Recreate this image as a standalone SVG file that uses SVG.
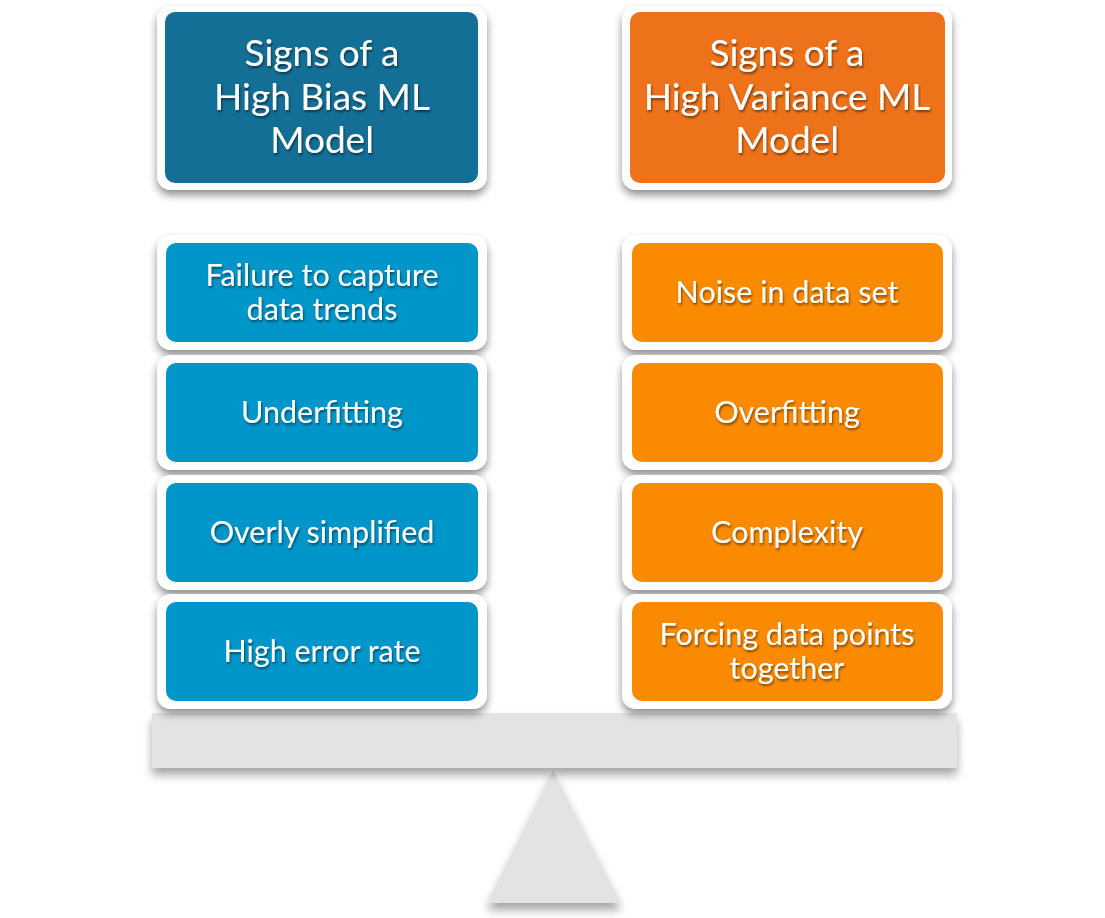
<svg xmlns="http://www.w3.org/2000/svg" width="1105" height="918" viewBox="0 0 1105 918">
  <defs>
    <filter id="frameShadow" x="-10%" y="-15%" width="120%" height="140%">
      <feGaussianBlur in="SourceAlpha" stdDeviation="4"/>
      <feOffset dx="0" dy="5" result="b"/>
      <feComponentTransfer><feFuncA type="linear" slope="0.45"/></feComponentTransfer>
      <feMerge><feMergeNode/><feMergeNode in="SourceGraphic"/></feMerge>
    </filter>
    <filter id="baseShadow" x="-10%" y="-20%" width="120%" height="160%">
      <feGaussianBlur in="SourceAlpha" stdDeviation="5"/>
      <feOffset dx="0" dy="7" result="b"/>
      <feComponentTransfer><feFuncA type="linear" slope="0.35"/></feComponentTransfer>
      <feMerge><feMergeNode/><feMergeNode in="SourceGraphic"/></feMerge>
    </filter>
    <filter id="textShadow" x="-10%" y="-30%" width="120%" height="160%">
      <feGaussianBlur in="SourceAlpha" stdDeviation="1.2"/>
      <feOffset dx="1" dy="2" result="b"/>
      <feComponentTransfer><feFuncA type="linear" slope="0.5"/></feComponentTransfer>
      <feMerge><feMergeNode/><feMergeNode in="SourceGraphic"/></feMerge>
    </filter>
  </defs>
  <style>
    .frame { fill: #ffffff; filter: url(#frameShadow); }
    .head-l { fill: #136f96; }
    .head-r { fill: #ee7219; }
    .item-l { fill: #0096c9; }
    .item-r { fill: #fa8a00; }
    .beam { fill: #e3e3e3; }
    text { fill: #ffffff; font-family: Lato, "Open Sans", "Liberation Sans", sans-serif; text-anchor: middle; filter: url(#textShadow); }
    .h { font-size: 37px; }
    .t { font-size: 30.5px; }
  </style>

  <rect width="1105" height="918" fill="#ffffff"/>

  <!-- seesaw fulcrum and beam -->
  <g id="fulcrum">
    <polygon class="beam" points="553,770 621,903 487,903" filter="url(#baseShadow)"/>
  </g>
  <g id="beam">
    <rect class="beam" x="152" y="713" width="805" height="55" filter="url(#baseShadow)"/>
  </g>

  <!-- headers -->
  <g id="header-bias">
    <rect class="frame" x="157" y="6" width="330" height="184" rx="14"/>
    <rect class="head-l" x="165" y="12" width="313" height="171" rx="10"/>
    <text class="h" x="322" y="66">Signs of a</text>
    <text class="h" x="322" y="110">High Bias ML</text>
    <text class="h" x="322" y="153">Model</text>
  </g>
  <g id="header-variance">
    <rect class="frame" x="622" y="6" width="330" height="184" rx="14"/>
    <rect class="head-r" x="630" y="12" width="315" height="171" rx="10"/>
    <text class="h" x="787" y="66">Signs of a</text>
    <text class="h" x="787" y="110">High Variance ML</text>
    <text class="h" x="787" y="153">Model</text>
  </g>

  <!-- high bias items -->
  <g id="bias-1">
    <rect class="frame" x="157" y="235" width="330" height="115" rx="14"/>
    <rect class="item-l" x="166" y="243" width="312" height="99" rx="10"/>
    <text class="t" x="322" y="286">Failure to capture</text>
    <text class="t" x="322" y="320">data trends</text>
  </g>
  <g id="bias-2">
    <rect class="frame" x="157" y="355" width="330" height="115" rx="14"/>
    <rect class="item-l" x="166" y="363" width="312" height="99" rx="10"/>
    <text class="t" x="322" y="423">Underfitting</text>
  </g>
  <g id="bias-3">
    <rect class="frame" x="157" y="475" width="330" height="115" rx="14"/>
    <rect class="item-l" x="166" y="483" width="312" height="99" rx="10"/>
    <text class="t" x="322" y="543">Overly simplified</text>
  </g>
  <g id="bias-4">
    <rect class="frame" x="157" y="594" width="330" height="115" rx="14"/>
    <rect class="item-l" x="166" y="602" width="312" height="99" rx="10"/>
    <text class="t" x="322" y="662">High error rate</text>
  </g>

  <!-- high variance items -->
  <g id="variance-1">
    <rect class="frame" x="622" y="235" width="330" height="115" rx="14"/>
    <rect class="item-r" x="632" y="243" width="311" height="99" rx="10"/>
    <text class="t" x="787" y="303">Noise in data set</text>
  </g>
  <g id="variance-2">
    <rect class="frame" x="622" y="355" width="330" height="115" rx="14"/>
    <rect class="item-r" x="632" y="363" width="311" height="99" rx="10"/>
    <text class="t" x="787" y="423">Overfitting</text>
  </g>
  <g id="variance-3">
    <rect class="frame" x="622" y="475" width="330" height="115" rx="14"/>
    <rect class="item-r" x="632" y="483" width="311" height="99" rx="10"/>
    <text class="t" x="787" y="543">Complexity</text>
  </g>
  <g id="variance-4">
    <rect class="frame" x="622" y="594" width="330" height="115" rx="14"/>
    <rect class="item-r" x="632" y="602" width="311" height="99" rx="10"/>
    <text class="t" x="787" y="645">Forcing data points</text>
    <text class="t" x="787" y="679">together</text>
  </g>

  <g id="connectors"></g>
</svg>
